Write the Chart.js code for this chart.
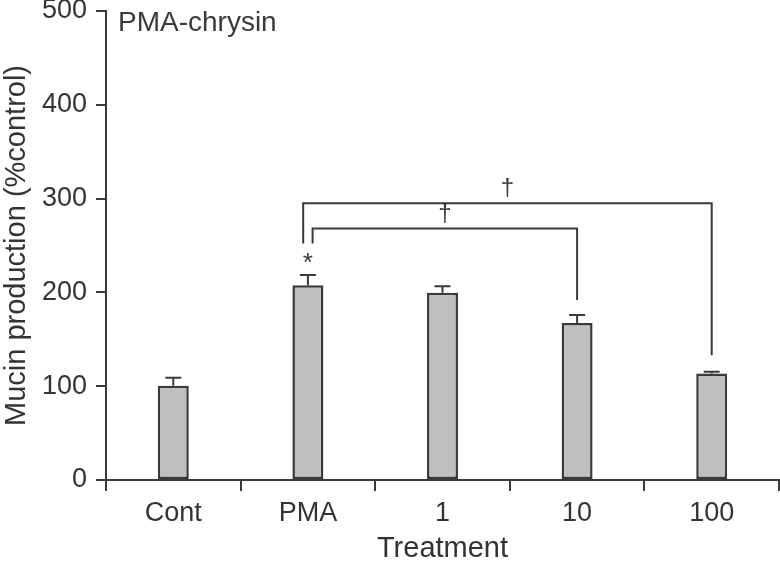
<!DOCTYPE html>
<html>
<head>
<meta charset="utf-8">
<title>PMA-chrysin</title>
<script src="https://cdn.jsdelivr.net/npm/chart.js@4.4.1/dist/chart.umd.min.js"></script>
<style>
  html, body { margin: 0; padding: 0; background: #fff; }
</style>
</head>
<body>
<canvas id="chart" width="780" height="566"></canvas>
<script>
// data
const categories = ['Cont', 'PMA', '1', '10', '100'];
const values = [100.5, 207.5, 199.5, 167.5, 113.5];
const errors = [8.5, 11, 7, 8.5, 2];
const marks = ['', '*', '', '', ''];
const yTicks = [0, 100, 200, 300, 400, 500];

// comparison brackets (category index / data units)
const bracketStart = [0.965, 1.035];
const bracketEnd = [4, 3];
const bracketLevel = [295, 268];
const bracketStartDrop = [252, 252];
const bracketEndDrop = [133, 192];
const bracketMark = ['\u2020', '\u2020'];

const INK = '#3a3a3a';
const FONT = "'Liberation Sans', Arial, Helvetica, sans-serif";

// error bars, significance marks, brackets, panel label
const annotations = {
  id: 'annotations',
  afterDatasetsDraw(chart) {
    const { ctx, chartArea } = chart;
    const x = chart.scales.x;
    const y = chart.scales.y;
    ctx.save();
    ctx.strokeStyle = INK;
    ctx.fillStyle = INK;
    ctx.lineWidth = 2;

    chart.getDatasetMeta(0).data.forEach((bar, i) => {
      const top = y.getPixelForValue(values[i]);
      const end = y.getPixelForValue(values[i] + errors[i]);
      ctx.beginPath();
      ctx.moveTo(bar.x, top);
      ctx.lineTo(bar.x, end);
      ctx.moveTo(bar.x - 8, end);
      ctx.lineTo(bar.x + 8, end);
      ctx.stroke();
      if (marks[i]) {
        ctx.font = '26px ' + FONT;
        ctx.textAlign = 'center';
        ctx.textBaseline = 'alphabetic';
        ctx.fillText(marks[i], bar.x, end - 4);
      }
    });

    bracketStart.forEach((s, i) => {
      const x1 = x.getPixelForValue(s);
      const x2 = x.getPixelForValue(bracketEnd[i]);
      const yl = y.getPixelForValue(bracketLevel[i]);
      ctx.beginPath();
      ctx.moveTo(x1, y.getPixelForValue(bracketStartDrop[i]));
      ctx.lineTo(x1, yl);
      ctx.lineTo(x2, yl);
      ctx.lineTo(x2, y.getPixelForValue(bracketEndDrop[i]));
      ctx.stroke();
      ctx.font = '24px ' + FONT;
      ctx.textAlign = 'center';
      ctx.textBaseline = 'alphabetic';
      ctx.fillText(bracketMark[i], (x1 + x2) / 2, yl - 8);
    });

    ctx.font = '28px ' + FONT;
    ctx.textAlign = 'left';
    ctx.textBaseline = 'alphabetic';
    ctx.fillText('PMA-chrysin', chartArea.left + 12, chartArea.top + 20);
    ctx.restore();
  }
};

new Chart(document.getElementById('chart'), {
  type: 'bar',
  data: {
    labels: categories,
    datasets: [{
      data: values,
      backgroundColor: '#bfbfbf',
      borderColor: INK,
      borderWidth: 2.5,
      borderSkipped: false,
      categoryPercentage: 1,
      barPercentage: 0.23
    }]
  },
  options: {
    responsive: false,
    animation: false,
    layout: { padding: { top: 11, right: 1, left: 0, bottom: 0 } },
    plugins: { legend: { display: false }, tooltip: { enabled: false } },
    scales: {
      x: {
        grid: { offset: true, drawOnChartArea: false, tickLength: 11, color: INK, lineWidth: 2 },
        border: { color: INK, width: 2 },
        ticks: { color: '#333', font: { family: FONT, size: 27 }, padding: 6 },
        title: { display: true, text: 'Treatment', color: '#333', font: { family: FONT, size: 29 }, padding: { top: 0, bottom: 0 } },
        afterFit(scale) { scale.height = 86; }
      },
      y: {
        min: 0,
        max: 500,
        afterBuildTicks(scale) { scale.ticks = yTicks.map(v => ({ value: v })); },
        grid: { drawOnChartArea: false, tickLength: 10, color: INK, lineWidth: 2 },
        border: { color: INK, width: 2 },
        ticks: { color: '#333', font: { family: FONT, size: 27 }, padding: 9 },
        title: { display: true, text: 'Mucin production (%control)', color: '#333', font: { family: FONT, size: 29 }, padding: { top: 0, bottom: 0 } },
        afterFit(scale) {
          scale.width = 106;
          scale.paddingTop = 0;
          scale.paddingBottom = 0;
        }
      }
    }
  },
  plugins: [annotations]
});
</script>
</body>
</html>
